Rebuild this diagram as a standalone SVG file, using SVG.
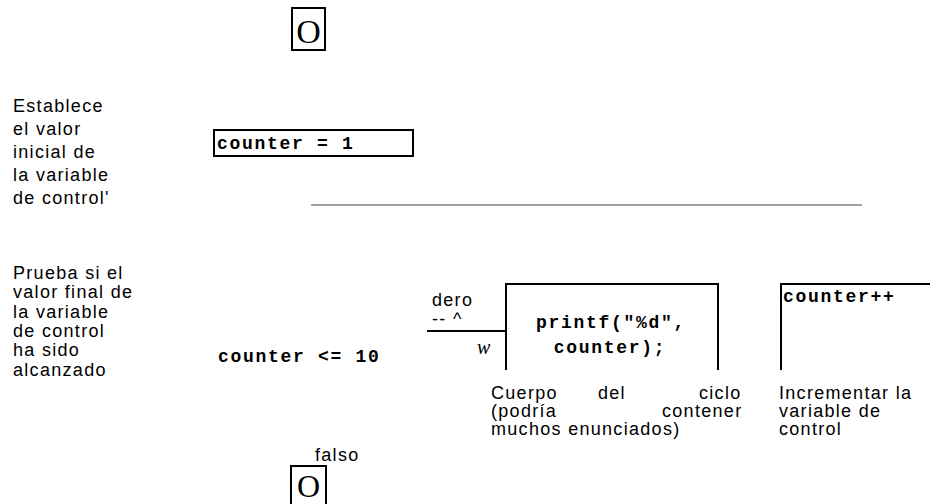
<svg xmlns="http://www.w3.org/2000/svg" width="932" height="504" viewBox="0 0 932 504">
<style>
.box{fill:none;stroke:#000;stroke-width:2}
.lbl{font-family:"Liberation Sans",Arial,sans-serif;font-size:18px;letter-spacing:1.3px;fill:#000}
.code{font-family:"Liberation Mono","Courier New",monospace;font-size:18px;font-weight:bold;letter-spacing:1.7px;fill:#000}
.ser{font-family:"Liberation Serif","Times New Roman",serif;fill:#000}
</style>
<rect width="932" height="504" fill="#fff"/>
<g id="start">
<rect class="box" x="292" y="8" width="33" height="42"/>
<text class="ser" x="308.5" y="43" font-size="34" text-anchor="middle">O</text>
</g>
<g id="note-init">
<text class="lbl" x="13" y="112">Establece</text>
<text class="lbl" x="13" y="135">el valor</text>
<text class="lbl" x="13" y="158">inicial de</text>
<text class="lbl" x="13" y="181">la variable</text>
<text class="lbl" x="13" y="204">de control'</text>
</g>
<g id="init">
<rect class="box" x="214" y="130" width="199" height="26"/>
<text class="code" x="217" y="149">counter = 1</text>
</g>
<g id="connectors">
<line x1="311" y1="205" x2="862" y2="205" stroke="#808080" stroke-width="1.5"/>
<line x1="427" y1="331" x2="506" y2="331" stroke="#000" stroke-width="2"/>
</g>
<g id="note-test">
<text class="lbl" x="13" y="279">Prueba si el</text>
<text class="lbl" x="13" y="298">valor final de</text>
<text class="lbl" x="13" y="318">la variable</text>
<text class="lbl" x="13" y="337">de control</text>
<text class="lbl" x="13" y="356">ha sido</text>
<text class="lbl" x="13" y="376">alcanzado</text>
</g>
<g id="test">
<text class="code" x="218" y="362">counter &lt;= 10</text>
<text class="lbl" x="432" y="306">dero</text>
<text class="lbl" x="432" y="325" font-size="15">-- ^</text>
<text class="ser" x="477" y="354" font-size="20" font-style="italic">w</text>
<text class="lbl" x="315" y="461">falso</text>
</g>
<g id="body">
<path class="box" d="M506,370 V284 H718 V370"/>
<text class="code" x="611" y="328" text-anchor="middle">printf("%d",</text>
<text class="code" x="610" y="353" text-anchor="middle">counter);</text>
<text class="lbl" x="491" y="399">Cuerpo</text>
<text class="lbl" x="598" y="399">del</text>
<text class="lbl" x="699" y="399">ciclo</text>
<text class="lbl" x="491" y="417">(podría</text>
<text class="lbl" x="662" y="417">contener</text>
<text class="lbl" x="491" y="435">muchos enunciados)</text>
</g>
<g id="increment">
<path class="box" d="M781,370 V284 H930"/>
<text class="code" x="783" y="302">counter++</text>
<text class="lbl" x="779" y="399">Incrementar la</text>
<text class="lbl" x="779" y="417">variable de</text>
<text class="lbl" x="779" y="435">control</text>
</g>
<g id="end">
<rect class="box" x="291" y="466" width="35" height="48"/>
<text class="ser" x="308.5" y="497" font-size="32" text-anchor="middle">O</text>
</g>
</svg>
